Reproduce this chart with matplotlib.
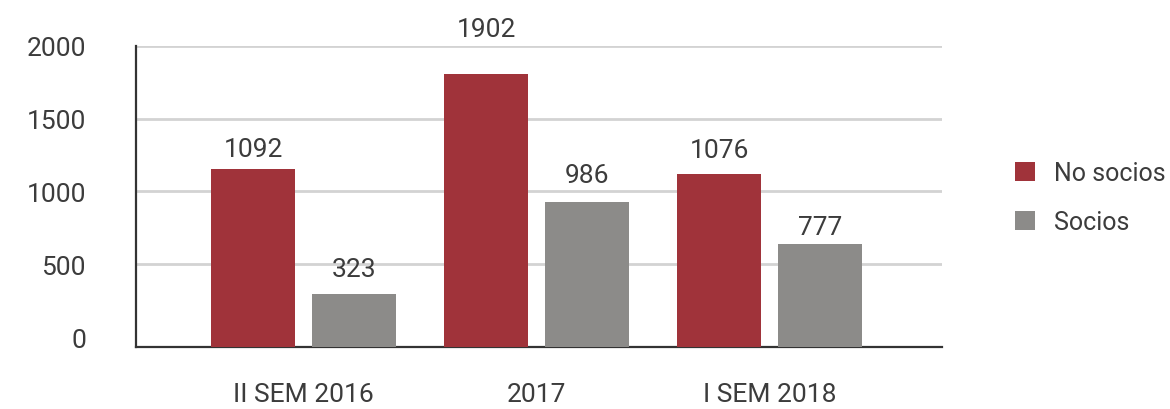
import matplotlib.pyplot as plt
import numpy as np
from matplotlib.patches import Patch

# Categories and series
periodos = ['II SEM 2016', '2017', 'I SEM 2018']
series = ['No socios', 'Socios']
# printed values above each bar
no_socios_txt = [1092, 1902, 1076]
socios_txt = [323, 986, 777]
no_socios = [1153, 1803, 1118]
socios = [297, 927, 639]
y_ticks = [0, 500, 1000, 1500, 2000]

rojo = '#A0333A'
gris = '#8C8B89'
texto = '#3C3C3C'

plt.rcParams['font.family'] = ['Roboto', 'DejaVu Sans']

fig = plt.figure(figsize=(11.7, 4.1), dpi=100)
ax = fig.add_axes([0.1162, 0.151, 0.689, 0.735])

ymin = -69
x = np.arange(len(periodos))
w = 0.36
off = 0.217

b1 = ax.bar(x - off, np.array(no_socios) - ymin, w, bottom=ymin, color=rojo, zorder=3)
b2 = ax.bar(x + off, np.array(socios) - ymin, w, bottom=ymin, color=gris, zorder=3)

# the value labels are not all at the same distance above their bars
gap_rojo = [5.5, 24, 9]
gap_gris = [9, 11, 3.5]

for bars, vals, gaps in [(b1, no_socios_txt, gap_rojo), (b2, socios_txt, gap_gris)]:
    for rect, v, g in zip(bars, vals, gaps):
        ax.annotate(str(v), (rect.get_x() + rect.get_width() / 2, rect.get_y() + rect.get_height()),
                    xytext=(0, g), textcoords='offset points', ha='center', va='bottom',
                    fontsize=19, color=texto)

ax.set_ylim(ymin, 2000)
ax.set_xlim(-0.72, 2.74)
ax.set_yticks(y_ticks)
ax.set_yticklabels([str(t) for t in y_ticks], fontsize=19, color=texto)
ax.set_xticks(x)
ax.set_xticklabels(periodos, fontsize=19, color=texto)
ax.tick_params(axis='y', length=0, pad=36)
ax.tick_params(axis='x', length=0, pad=25)

ax.grid(axis='y', color='#D3D3D3', linewidth=2, zorder=0)
ax.get_ygridlines()[0].set_visible(False)
for s in ['top', 'right']:
    ax.spines[s].set_visible(False)
for s in ['left', 'bottom']:
    ax.spines[s].set_color('#333333')
    ax.spines[s].set_linewidth(1.6)
ax.spines['left'].set_bounds(ymin, 2000)

handles = [Patch(facecolor=rojo), Patch(facecolor=gris)]
fig.legend(handles, series, loc='upper left', bbox_to_anchor=(0.857, 0.635),
           frameon=False, fontsize=18, handlelength=0.8, handleheight=0.8,
           handletextpad=0.75, labelspacing=1.0, labelcolor=texto, borderpad=0)

fig.savefig('out.png', dpi=100)
